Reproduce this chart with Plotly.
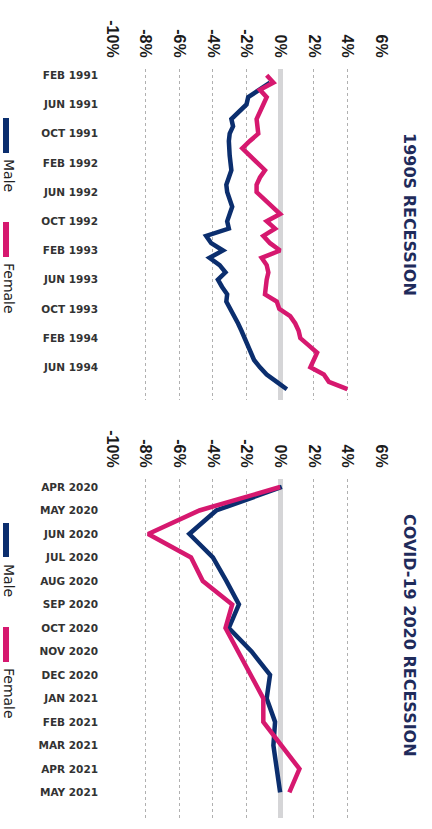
import pandas as pd
import plotly.graph_objects as go

# colours
NAVY = '#0b2e6e'
PINK = '#d6186f'
TITLE = '#1f2b5b'

# ---- data ----
# 1990s recession: monthly, Feb 1991 - Sep 1994 (% change in employment)
months_90s = [p.strftime('%b %Y').upper() for p in pd.period_range('1991-02', '1994-09', freq='M')]
male_90s = [None, -0.6, -1.3, -1.9, -2.0, -2.5, -2.9, -2.8, -3.0, -3.05, -3.05,
            -3.0, -2.95, -2.9, -3.05, -3.2, -3.15, -3.0, -2.85, -3.0, -3.15, -3.05,
            -4.4, -4.1, -3.4, -4.2, -3.6, -3.25, -3.7, -3.45, -3.15, -3.2, -2.95,
            -2.75, -2.5, -2.3, -2.1, -1.9, -1.7, -1.55, -1.2, -0.8, -0.2, 0.4]
female_90s = [-0.8, -0.4, -1.2, -0.8, -1.0, -1.2, -1.4, -1.35, -1.3, -1.8, -2.25,
              -1.8, -1.3, -0.9, -1.2, -1.4, -1.4, -0.9, -0.45, 0.0, -0.8, -0.3,
              -1.0, -0.6, 0.0, -1.1, -0.8, -0.7, -0.8, -0.85, -0.9, -0.2, -0.05,
              0.6, 0.9, 1.1, 1.2, 1.7, 2.2, 2.0, 1.8, 2.6, 2.9, 4.0]
ticks_90s = ['FEB 1991', 'JUN 1991', 'OCT 1991', 'FEB 1992', 'JUN 1992', 'OCT 1992',
             'FEB 1993', 'JUN 1993', 'OCT 1993', 'FEB 1994', 'JUN 1994']

# COVID-19 recession: monthly, Apr 2020 - May 2021
months_covid = ['APR 2020', 'MAY 2020', 'JUN 2020', 'JUL 2020', 'AUG 2020', 'SEP 2020',
                'OCT 2020', 'NOV 2020', 'DEC 2020', 'JAN 2021', 'FEB 2021', 'MAR 2021',
                'APR 2021', 'MAY 2021']
male_covid = [0.1, -3.8, -5.4, -4.0, -3.2, -2.45, -3.05, -1.7, -0.6, -0.8, -0.3, -0.4, -0.2, 0.0]
female_covid = [0.0, -4.8, -7.85, -5.3, -4.6, -2.85, -3.25, -2.5, -1.75, -1.0, -1.0, 0.1, 1.15, 0.55]

pct_ticks = [-10, -8, -6, -4, -2, 0, 2, 4, 6]
pct_labels = [f'{v}%' for v in pct_ticks]

W, H = 432, 829


def px_x(p):
    return p / W


def px_y(p):
    return 1 - p / H


fig = go.Figure()

# top chart
fig.add_trace(go.Scatter(x=male_90s, y=months_90s, mode='lines', name='Male',
                         line=dict(color=NAVY, width=4.5), xaxis='x', yaxis='y'))
fig.add_trace(go.Scatter(x=female_90s, y=months_90s, mode='lines', name='Female',
                         line=dict(color=PINK, width=4.5), xaxis='x', yaxis='y'))
# bottom chart
fig.add_trace(go.Scatter(x=male_covid, y=months_covid, mode='lines', name='Male',
                         line=dict(color=NAVY, width=4.5), xaxis='x2', yaxis='y2'))
fig.add_trace(go.Scatter(x=female_covid, y=months_covid, mode='lines', name='Female',
                         line=dict(color=PINK, width=4.5), xaxis='x2', yaxis='y2'))

value_axis = dict(
    range=[-10, 6], domain=[px_x(112), px_x(381)], side='top',
    tickvals=pct_ticks, ticktext=pct_labels, tickangle=90,
    tickfont=dict(family='Liberation Sans', size=16, weight='bold', color='#1a1a1a'),
    showgrid=True, gridcolor='#b0b0b0', griddash='dot', gridwidth=1,
    zeroline=True, zerolinecolor='#d5d5d7', zerolinewidth=5,
    showline=False, ticks='', fixedrange=True, automargin=False,
    ticklabelstandoff=8,
)
cat_font = dict(family='DejaVu Sans', size=10.5, weight='bold', color='#333')

fig.update_layout(
    width=W, height=H,
    margin=dict(l=0, r=0, t=0, b=0, pad=0),
    paper_bgcolor='white', plot_bgcolor='white',
    showlegend=False,
    xaxis=dict(value_axis, anchor='y'),
    xaxis2=dict(value_axis, anchor='y2'),
    yaxis=dict(domain=[px_y(400), px_y(69)], type='category',
               categoryorder='array', categoryarray=months_90s,
               range=[44.48, -0.86], tickvals=ticks_90s, tickfont=cat_font,
               showgrid=False, zeroline=False, ticks='', ticklabelstandoff=13,
               anchor='x', automargin=False, fixedrange=True),
    yaxis2=dict(domain=[px_y(818), px_y(479)], type='category',
                categoryorder='array', categoryarray=months_covid,
                range=[14.09, -0.34], tickvals=months_covid, tickfont=cat_font,
                showgrid=False, zeroline=False, ticks='', ticklabelstandoff=13,
                anchor='x2', automargin=False, fixedrange=True),
)

# panel titles (rotated)
for text, yc in [('1990S RECESSION', 214), ('COVID-19 2020 RECESSION', 635)]:
    fig.add_annotation(text=text, x=px_x(410), y=px_y(yc), xref='paper', yref='paper',
                       textangle=90, showarrow=False, xanchor='center', yanchor='middle',
                       font=dict(family='DejaVu Sans', size=16, weight='bold', color=TITLE))

# hand-drawn legends at the left of each panel
legend_items = [('Male', NAVY, 118, 153, 175), ('Female', PINK, 222, 257, 288),
                ('Male', NAVY, 523, 557, 580), ('Female', PINK, 627, 662, 693)]
for label, col, y0, y1, ytxt in legend_items:
    fig.add_shape(type='rect', xref='paper', yref='paper',
                  x0=px_x(3), x1=px_x(9), y0=px_y(y1), y1=px_y(y0),
                  fillcolor=col, line=dict(width=0))
    fig.add_annotation(text=label, x=0, y=px_y(ytxt), xref='paper', yref='paper',
                       textangle=90, showarrow=False, xanchor='left', yanchor='middle',
                       borderpad=0, font=dict(family='DejaVu Sans', size=14, color='#222'))

# page body has a default 8px margin; drop it so the figure fills the window
fig.write_html('out.html', config={'displayModeBar': False},
               post_script="document.body.style.margin='0';")
